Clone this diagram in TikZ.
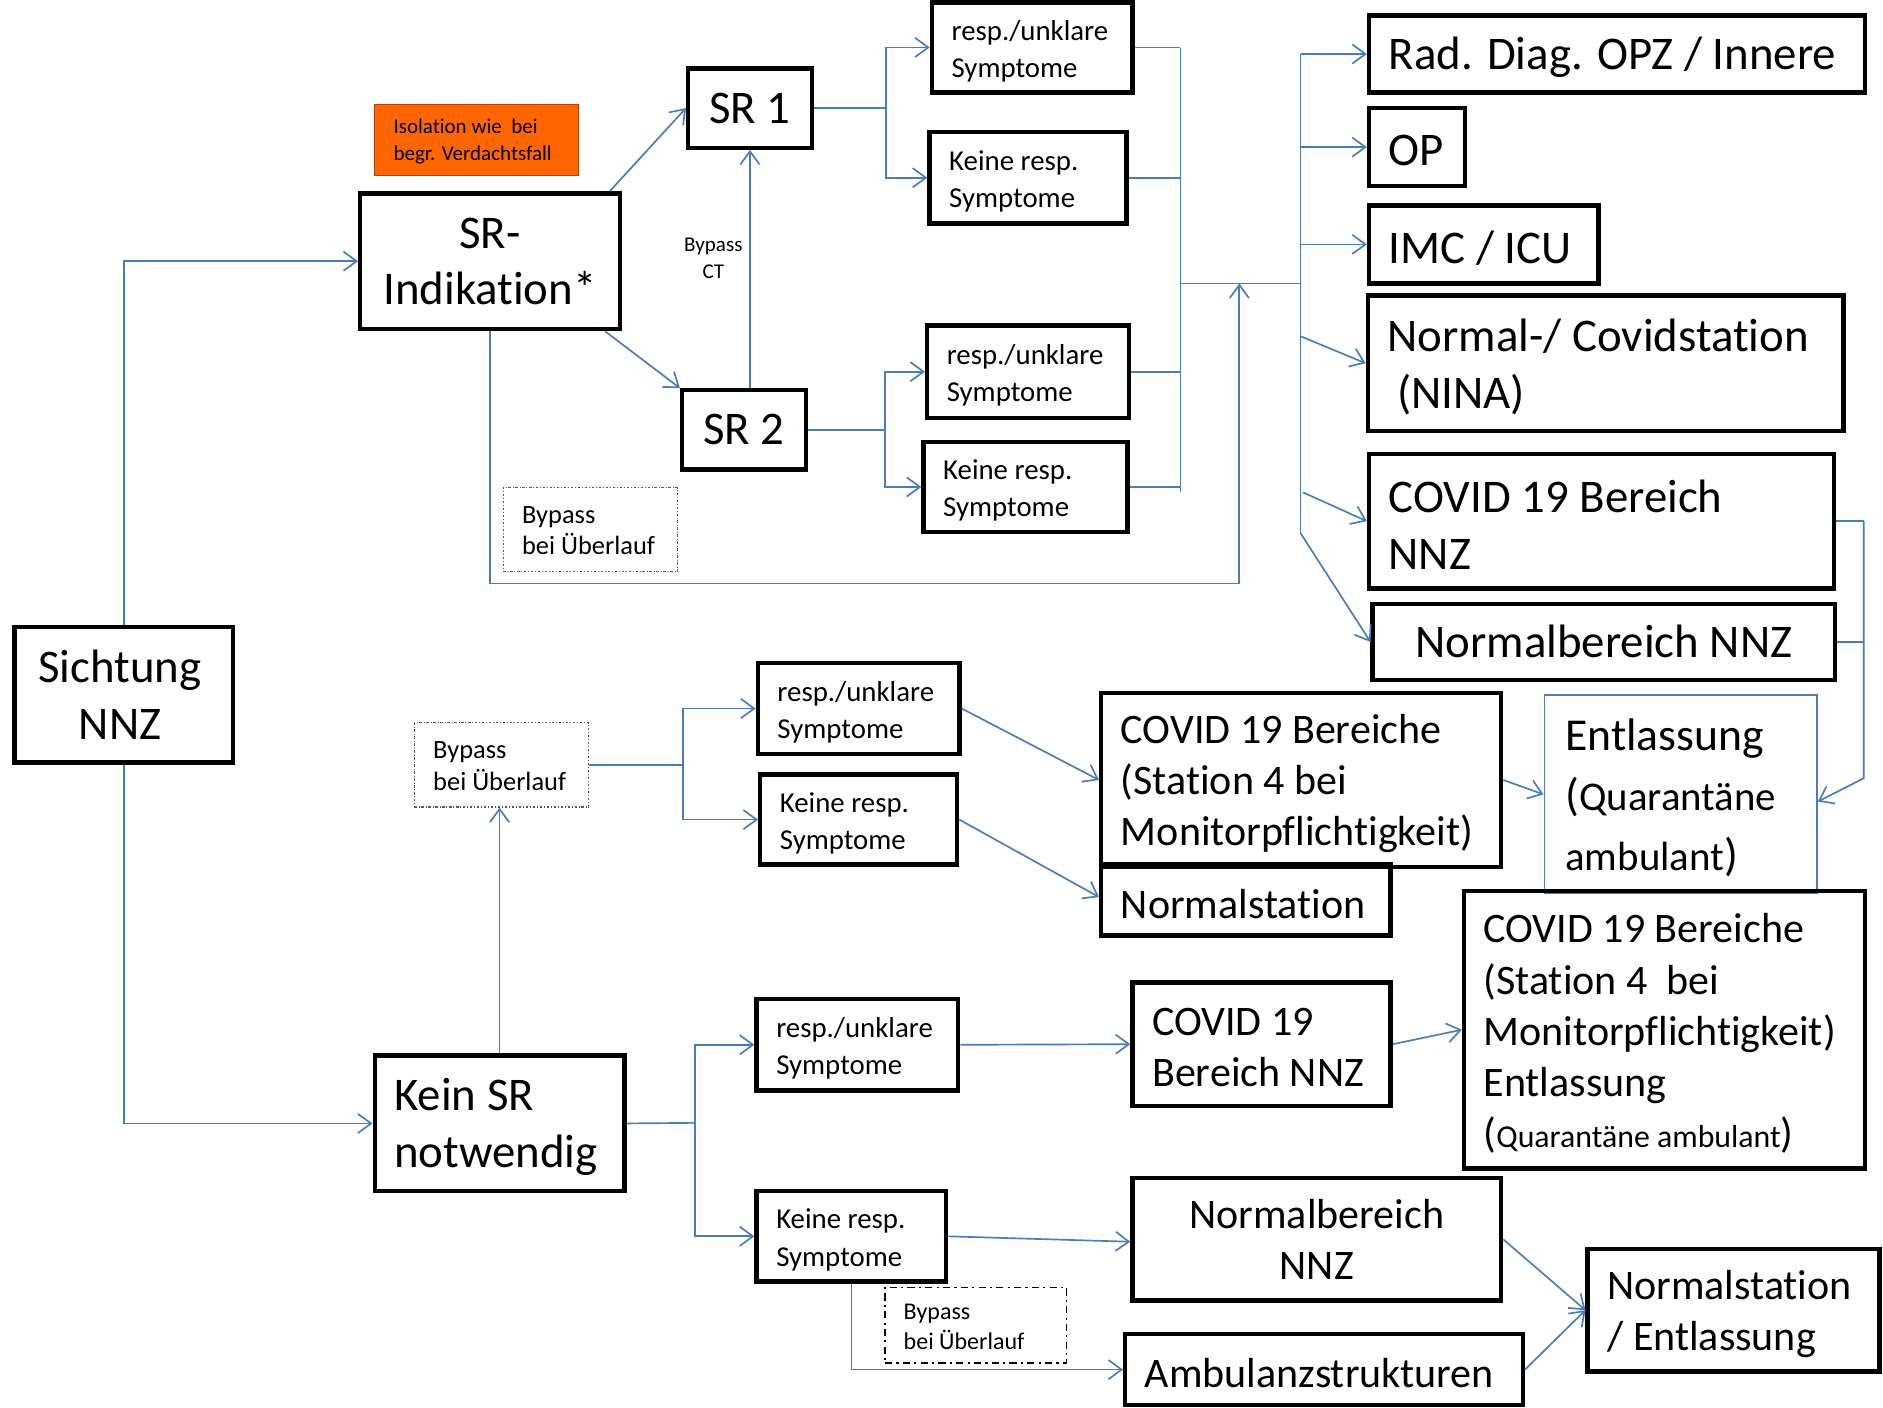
\documentclass[tikz,border=0pt]{standalone}
\usepackage{fontspec}
\setmainfont{Carlito}[Ligatures={NoCommon,NoContextual}]
\usetikzlibrary{arrows.meta}
\definecolor{lnblue}{HTML}{4A7EBB}
\definecolor{isoorange}{HTML}{FF6600}
\definecolor{isoedge}{HTML}{B5400A}
\newcommand\szA{\fontsize{39}{47}\selectfont}
\newcommand\szB{\fontsize{35}{42.5}\selectfont}
\newcommand\szE{\fontsize{34}{50}\selectfont}
\newcommand\szEE{\fontsize{38}{50}\selectfont}
\newcommand\szQ{\fontsize{26.5}{42.5}\selectfont}
\newcommand\szM{\fontsize{24}{31}\selectfont}
\newcommand\szS{\fontsize{22}{26}\selectfont}
\newcommand\szSS{\fontsize{20}{25}\selectfont}
\newcommand\szT{\fontsize{17.5}{22.5}\selectfont}
\newcommand\Bx[6]{%
  \pgfmathsetmacro\bW{#4-#2}%
  \pgfmathsetmacro\bH{#5-#3}%
  \pgfmathsetmacro\bX{(#2+#4)/2}%
  \pgfmathsetmacro\bY{(#3+#5)/2}%
  \node[#6,minimum width=\bW pt,minimum height=\bH pt] (#1) at (\bX,\bY) {};}
\begin{document}
\begin{tikzpicture}[x=1pt,y=-1pt,
  bx/.style={draw=black,line width=3.6pt,inner sep=0pt},
  thinblue/.style={draw=lnblue,line width=1.4pt,inner sep=0pt},
  dotbox/.style={draw=black!65,line width=0.9pt,dash pattern=on 2pt off 1.6pt on 0.6pt off 1.6pt,inner sep=0pt},
  dashdotbox/.style={draw=black,line width=1.4pt,dash pattern=on 6pt off 3.5pt on 1.8pt off 3.5pt,inner sep=0pt},
  isobox/.style={draw=isoedge,fill=isoorange,line width=1pt,inner sep=0pt},
  txt/.style={inner sep=0pt,align=left,anchor=west,text=black,xshift=18pt,yshift=-3pt},
  ctxt/.style={inner sep=0pt,align=center,text=black},
  ln/.style={draw=lnblue,line width=1.4pt},
  arr/.style={ln,-{Straight Barb[length=11pt,width=16pt]}}]
\useasboundingbox (0,0) rectangle (1568,1172);
\fill[white] (0,0) rectangle (1568,1172);

% left
\Bx{sicht}{12}{522}{194}{635}{bx}
\node[ctxt,font=\szA,xshift=-3pt] (t-sicht) at (sicht) {Sichtung\\NNZ};
\Bx{iso}{312}{87}{482}{146}{isobox}
\node[txt,font=\szT,xshift=-2pt,yshift=2pt] (t-iso) at (iso.west) {Isolation wie\ \ bei\\begr. Verdachtsfall};
\Bx{srind}{300}{161}{516}{274}{bx}
\node[ctxt,font=\szA] (t-srind) at (srind) {SR-\\Indikation*};
\Bx{byp1}{419}{406}{564}{476}{dotbox}
\node[txt,font=\szS,xshift=-2pt,yshift=2pt] (t-byp1) at (byp1.west) {Bypass\\bei Überlauf};
\Bx{sr1}{573}{57}{676}{123}{bx}
\node[ctxt,font=\szA] (t-sr1) at (sr1) {SR 1};
\Bx{sr2}{568}{325}{671}{391}{bx}
\node[ctxt,font=\szA] (t-sr2) at (sr2) {SR 2};
\node[ctxt,font=\szT] (bct) at (594,215) {Bypass\\CT};

% symptom boxes upper
\Bx{r1}{776}{2}{943}{77}{bx}
\node[txt,font=\szM] (t-r1) at (r1.west) {resp./unklare\\Symptome};
\Bx{k1}{774}{110}{938}{186}{bx}
\node[txt,font=\szM] (t-k1) at (k1.west) {Keine resp.\\Symptome};
\Bx{r2}{772}{271}{940}{348}{bx}
\node[txt,font=\szM] (t-r2) at (r2.west) {resp./unklare\\Symptome};
\Bx{k2}{769}{368}{939}{443}{bx}
\node[txt,font=\szM] (t-k2) at (k2.west) {Keine resp.\\Symptome};

% right column
\Bx{rad}{1140}{13}{1553}{77}{bx}
\node[txt,font=\szA] (t-rad) at (rad.west) {Rad. Diag. OPZ / Innere};
\Bx{op}{1140}{90}{1220}{155}{bx}
\node[txt,font=\szA] (t-op) at (op.west) {OP};
\Bx{imc}{1140}{171}{1331}{236}{bx}
\node[txt,font=\szA] (t-imc) at (imc.west) {IMC / ICU};
\Bx{nina}{1139}{246}{1535}{359}{bx}
\node[txt,font=\szA] (t-nina) at (nina.west) {Normal-/ Covidstation\\\hspace*{8pt}(NINA)};
\Bx{covnnz}{1140}{378}{1527}{490}{bx}
\node[txt,font=\szA] (t-covnnz) at (covnnz.west) {COVID 19 Bereich\\NNZ};
\Bx{normnnz}{1143}{503}{1528}{566}{bx}
\node[ctxt,font=\szA] (t-normnnz) at (normnnz) {Normalbereich NNZ};

% middle
\Bx{byp2}{345}{602}{490}{672}{dotbox}
\node[txt,font=\szS,xshift=-2pt,yshift=2pt] (t-byp2) at (byp2.west) {Bypass\\bei Überlauf};
\Bx{r3}{631}{552}{799}{628}{bx}
\node[txt,font=\szM] (t-r3) at (r3.west) {resp./unklare\\Symptome};
\Bx{k3}{633}{645}{797}{720}{bx}
\node[txt,font=\szM] (t-k3) at (k3.west) {Keine resp.\\Symptome};
\Bx{cov4}{917}{577}{1250}{722}{bx}
\node[txt,font=\szB] (t-cov4) at (cov4.west) {COVID 19 Bereiche\\(Station 4 bei\\Monitorpflichtigkeit)};
\Bx{normst}{917}{720}{1158}{779}{bx}
\node[txt,font=\szB] (t-normst) at (normst.west) {Normalstation};
\Bx{entl}{1286}{579}{1513}{744}{thinblue}
\node[txt,font=\szEE] (t-entl) at (entl.west) {Entlassung\\({\szE Quarantäne}\\{\szE ambulant})};
\Bx{cov4e}{1219}{742}{1553}{973}{bx}
\node[txt,font=\szB] (t-cov4e) at (cov4e.west) {COVID 19 Bereiche\\(Station 4\ \ bei\\Monitorpflichtigkeit)\\Entlassung\\({\szQ Quarantäne ambulant})};

% bottom
\Bx{keinsr}{312}{879}{520}{992}{bx}
\node[txt,font=\szA] (t-keinsr) at (keinsr.west) {Kein SR\\notwendig};
\Bx{r4}{630}{832}{798}{908}{bx}
\node[txt,font=\szM] (t-r4) at (r4.west) {resp./unklare\\Symptome};
\Bx{covb}{943}{818}{1158}{921}{bx}
\node[txt,font=\szB] (t-covb) at (covb.west) {COVID 19\\Bereich NNZ};
\Bx{k4}{630}{992}{788}{1067}{bx}
\node[txt,font=\szM] (t-k4) at (k4.west) {Keine resp.\\Symptome};
\Bx{normb}{943}{981}{1250}{1083}{bx}
\node[ctxt,font=\szB] (t-normb) at (normb) {Normalbereich\\NNZ};
\Bx{byp3}{737}{1072}{888}{1135}{dashdotbox}
\node[txt,font=\szSS,xshift=-2pt,yshift=2pt] (t-byp3) at (byp3.west) {Bypass\\bei Überlauf};
\Bx{amb}{937}{1111}{1268}{1170}{bx}
\node[txt,font=\szB] (t-amb) at (amb.west) {Ambulanzstrukturen};
\Bx{normentl}{1322}{1040}{1565}{1142}{bx}
\node[txt,font=\szB] (t-normentl) at (normentl.west) {Normalstation\\/ Entlassung};

% junctions
\coordinate (j1) at (738,90);
\coordinate (j2) at (737,358);
\coordinate (cTop) at (983,40);
\coordinate (cBot) at (983,410);
\coordinate (cA) at (983,236);
\coordinate (cB) at (1083,236);
\coordinate (dTop) at (1083,45);
\coordinate (dN) at (1083,280);
\coordinate (dC) at (1085,410);
\coordinate (dBot) at (1083,444);
\coordinate (c3) at (1032,486);
\coordinate (j3) at (569,637);
\coordinate (j4) at (579,935);
\coordinate (eTop) at (1552,434);
\coordinate (eBot) at (1552,648);

% connectors
\draw[arr] (sicht.north) |- (srind.west);
\draw[arr] (sicht.south) |- (keinsr.west);
\draw[arr] ([xshift=-10pt]srind.north east) -- (sr1.west);
\draw[arr] ([xshift=-14pt]srind.south east) -- (sr2.north west);
\draw[arr] (sr1.south |- sr2.north) -- (sr1.south);
\draw[ln] (sr1.east) -- (j1);
\draw[arr] (j1) |- (r1.west);
\draw[arr] (j1) |- (k1.west);
\draw[ln] (sr2.east) -- (j2);
\draw[arr] (j2) |- (r2.west);
\draw[arr] (j2) |- (k2.west);
\draw[ln] (r1.east) -- (r1.east -| cTop);
\draw[ln] (k1.east) -- (k1.east -| cTop);
\draw[ln] (r2.east) -- (r2.east -| cTop);
\draw[ln] (k2.east) -- (k2.east -| cTop);
\draw[ln] (cTop) -- (cBot);
\draw[ln] (cA) -- (cB);
\draw[ln] (dTop) -- (dBot);
\draw[arr] (dTop) -- (rad.west);
\draw[arr] (op.west -| dTop) -- (op.west);
\draw[arr] (imc.west -| dTop) -- (imc.west);
\draw[arr] (dN) -- (nina.west);
\draw[arr] (dC) -- (covnnz.west);
\draw[arr] (dBot) -- (normnnz.west);
\draw[arr] (srind.south) |- (c3) -- (c3 |- cA);
\draw[arr] (keinsr.north) -- (keinsr.north |- byp2.south);
\draw[ln] (byp2.east) -- (j3);
\draw[arr] (j3) |- (r3.west);
\draw[arr] (j3) |- (k3.west);
\draw[arr] (r3.east) -- (cov4.west);
\draw[arr] (k3.east) -- ([yshift=2.5pt]normst.west);
\draw[arr] (cov4.east) -- (entl.west);
\draw[ln] (covnnz.east) -- (eTop);
\draw[ln] (normnnz.east) -- (normnnz.east -| eTop);
\draw[arr] (eTop) -- (eBot) -- ([yshift=-6pt]entl.east);
\draw[ln] (keinsr.east) -- (j4);
\draw[arr] (j4) |- (r4.west);
\draw[arr] (j4) |- (k4.west);
\draw[arr] (r4.east) -- (covb.west);
\draw[arr] (covb.east) -- (cov4e.west);
\draw[arr] (k4.east) -- ([yshift=-2pt]normb.west);
\draw[arr] (k4.south) |- (amb.west);
\draw[arr] (normb.east) -- (normentl.west);
\draw[arr] (amb.east) -- (normentl.west);
\end{tikzpicture}
\end{document}
